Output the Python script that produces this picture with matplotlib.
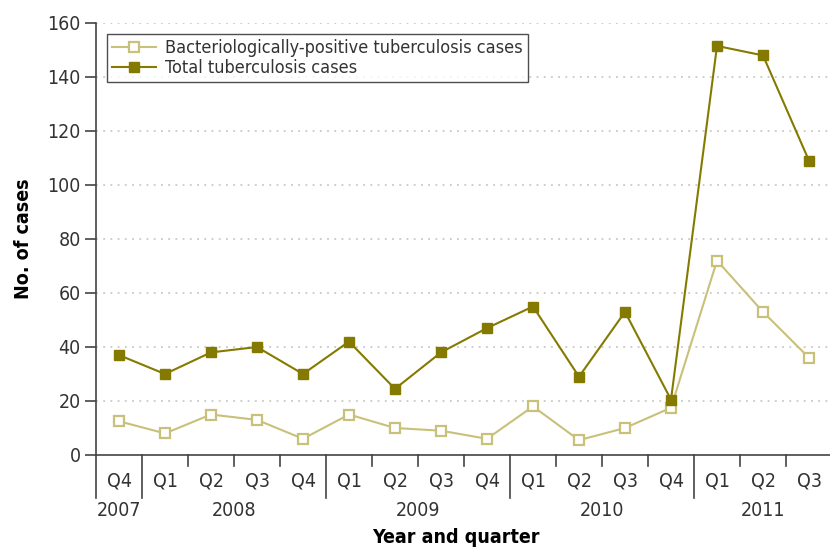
import numpy as np
import matplotlib.pyplot as plt
import matplotlib.transforms as mtransforms

plt.rcParams['font.family'] = ['DejaVu Sans']
plt.rcParams['font.stretch'] = 'condensed'

quarters = ['Q4', 'Q1', 'Q2', 'Q3', 'Q4', 'Q1', 'Q2', 'Q3', 'Q4',
            'Q1', 'Q2', 'Q3', 'Q4', 'Q1', 'Q2', 'Q3']
years = ['2007', '2008', '2009', '2010', '2011']
year_spans = [(0, 0), (1, 4), (5, 8), (9, 12), (13, 15)]
bacterio = [12.5, 8, 15, 13, 6, 15, 10, 9, 6, 18, 5.5, 10, 17.5, 72, 53, 36]
total = [37, 30, 38, 40, 30, 42, 24.5, 38, 47, 55, 29, 53, 20.5, 151.5, 148, 109]

dark = '#857a00'
light = '#c9c07a'
grey = '#444444'
txt = '#333333'

fig = plt.figure(figsize=(8.3, 5.48), dpi=100)
ax = fig.add_axes([96/830, 93/548, 736/830, 432/548])

x = np.arange(len(quarters))
ax.plot(x, bacterio, color=light, lw=1.5, marker='s', ms=7.5, mfc='white',
        mec=light, mew=1.6, label='Bacteriologically-positive tuberculosis cases', zorder=3)
ax.plot(x, total, color=dark, lw=1.5, marker='s', ms=7.5, mfc=dark,
        mec=dark, label='Total tuberculosis cases', zorder=4)

ax.set_xlim(-0.5, 15.5)
ax.set_ylim(0, 160)
ax.set_yticks(range(0, 161, 20))
for v in range(20, 161, 20):
    ax.axhline(v, color='#c8c8c8', lw=1.3, ls=(0, (1, 3)), zorder=1)

for s in ['top', 'right']:
    ax.spines[s].set_visible(False)
ax.spines['left'].set_color(grey)
ax.spines['bottom'].set_color(grey)
ax.spines['left'].set_linewidth(1.2)
ax.spines['bottom'].set_linewidth(1.2)
ax.tick_params(axis='y', length=8, width=1.2, color=grey, labelsize=14,
               labelcolor=txt, pad=3)

# quarter labels and tick marks
ax.set_xticks(x)
ax.set_xticklabels(quarters)
ax.tick_params(axis='x', length=0, labelsize=14, labelcolor=txt, pad=12)

trans = mtransforms.blended_transform_factory(ax.transData, ax.transAxes)
year_bounds = [-0.5, 0.5, 4.5, 8.5, 12.5]
for b in np.arange(-0.5, 15.0, 1):
    if b in year_bounds:
        ax.plot([b, b], [0, -0.10], transform=trans, color=grey, lw=1.2, clip_on=False)
    else:
        ax.plot([b, b], [0, -0.026], transform=trans, color=grey, lw=1.2, clip_on=False)

for yr, (a, b) in zip(years, year_spans):
    ax.text((a + b) / 2, -0.128, yr, transform=trans, ha='center', va='center',
            fontsize=14, color=txt)

ax.set_xlabel('Year and quarter', fontsize=14, fontweight='bold')
ax.set_ylabel('No. of cases', fontsize=14, fontweight='bold', labelpad=10)
ax.xaxis.set_label_coords((456 - 96) / 736, -0.19)
ax.xaxis.label.set_va('center')

leg = ax.legend(loc='upper left', bbox_to_anchor=(11/736, 0.975), fontsize=13,
                frameon=True, fancybox=False, edgecolor='#222222', borderpad=0.3,
                borderaxespad=0, labelspacing=0.1, handlelength=2.4,
                handletextpad=0.5)
leg.get_frame().set_linewidth(1.0)
for t in leg.get_texts():
    t.set_color(txt)

fig.savefig('out.png', dpi=100)
